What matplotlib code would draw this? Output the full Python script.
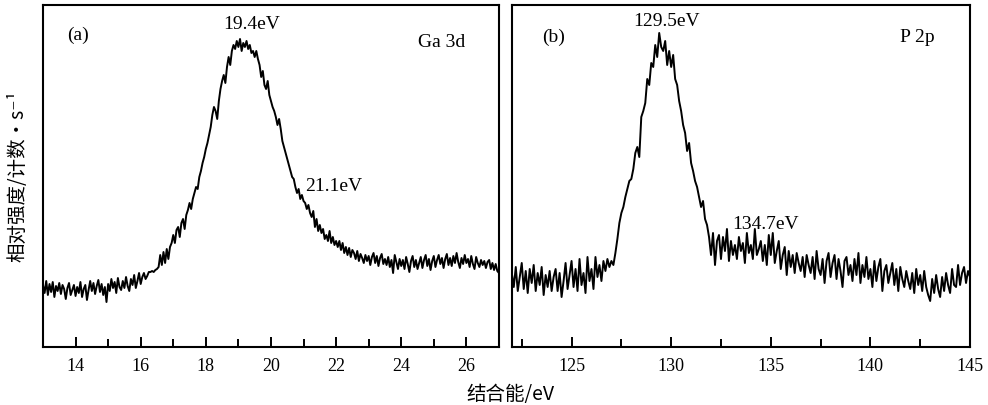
import numpy as np
import matplotlib
matplotlib.use("Agg")
import matplotlib.pyplot as plt
from matplotlib.ticker import MultipleLocator

plt.rcParams["font.family"] = ["Liberation Serif", "Noto Sans CJK SC", "DejaVu Sans"]

# Ga 3d spectrum, 13.00-27.00 eV in 0.05 eV steps (relative counts)
ga_start, ga_step = 13.0, 0.05
ga_counts = [
    62, 54, 66, 52, 63, 55, 65, 50, 61, 56,
    64, 53, 62, 58, 48, 59, 64, 52, 57, 62,
    51, 60, 54, 65, 50, 58, 62, 47, 57, 66,
    56, 64, 53, 61, 67, 55, 63, 52, 60, 45,
    63, 56, 68, 59, 65, 54, 69, 60, 57, 66,
    59, 70, 61, 56, 68, 62, 72, 59, 66, 74,
    63,
    70, 74, 68, 71, 75, 75, 76, 75, 77, 78,
    80, 92, 82, 95, 84, 98, 88, 100, 104, 112,
    104, 117, 120, 110, 124, 128, 118, 132, 137, 144,
    138, 148, 154, 160, 158, 170, 176, 184, 190, 198,
    204, 212, 220, 232, 240, 236, 228, 246, 258, 266,
    272, 264, 280, 290, 282, 296, 302, 298, 306, 300,
    308, 296, 304, 300, 306, 298, 302, 294, 296, 290,
    296, 288, 282, 270, 276, 262, 258, 266, 252, 246,
    240, 236, 230, 222, 228, 218, 206, 200, 194, 188,
    182, 176, 170, 168, 160, 154, 158, 148, 152, 146,
    144, 138, 142, 134, 130, 136, 120, 128, 116, 122,
    114, 118, 108, 112, 106, 116, 104, 110, 102, 106,
    100, 106, 97, 104, 94, 100, 92, 99, 90, 97,
    94, 88, 96, 86, 93, 89, 84, 92, 86, 91,
    82, 90, 94, 84, 91, 81, 89, 93, 83, 88,
    82, 90, 80, 87, 74, 92, 85, 78, 88, 81,
    87, 78, 90, 83, 75, 86, 91, 80, 87, 78,
    84, 90, 79, 87, 92, 81, 88, 77, 86, 91,
    80, 87, 92, 83, 89, 79, 88, 93, 82, 89,
    81, 91, 84, 94, 85, 79, 89, 83, 92, 84,
    88, 80, 91, 83, 78, 90, 84, 80, 87, 82,
    86, 79, 85, 87, 78, 84, 77, 83, 76, 74,
]

# P 2p spectrum, 122.0-145.0 eV in 0.1 eV steps (relative counts)
p_start, p_step = 122.0, 0.1
p_counts = [
    74, 60, 80, 56, 70, 84, 58, 76, 54, 78,
    64, 82, 56, 74, 62, 80, 52, 72, 60, 76,
    56, 70, 78, 56, 74, 50, 66, 84, 58, 72,
    86, 60, 78, 56, 88, 62, 74, 54, 90, 66,
    78, 58, 90, 70, 82, 66, 86, 76, 88, 80,
    86, 82, 94, 108, 124, 134, 140, 150, 158, 166,
    168, 178, 194, 200, 190, 230, 236, 244, 268, 262,
    284, 280, 302, 290, 314, 300, 296, 306, 282, 296,
    280, 292, 268, 262, 246, 236, 222, 214, 196, 204,
    184, 176, 166, 160, 150, 140, 146, 128, 122, 110,
    92, 114, 82, 106, 112, 88, 110, 96, 118, 86,
    106, 92, 102, 88, 110, 96, 104, 84, 114, 94,
    102, 88, 118, 92, 98, 106, 86, 102, 82, 112,
    92, 114, 84, 96, 106, 78, 92, 100, 72, 96,
    80, 92, 74, 94, 84, 76, 90, 70, 92, 82,
    74, 90, 68, 96, 78, 72, 88, 64, 86, 94,
    70, 84, 92, 68, 88, 76, 60, 86, 90, 72,
    82, 66, 88, 72, 94, 64, 82, 70, 90, 68,
    78, 60, 86, 66, 80, 88, 56, 76, 82, 64,
    74, 84, 62, 78, 56, 80, 68, 60, 76, 66,
    58, 74, 54, 78, 62, 72, 56, 76, 60, 52,
    46, 68, 54, 72, 58, 50, 70, 56, 74, 62,
    54, 78, 62, 60, 82, 62, 74, 80, 64, 76,
    70,
]

ga_labels = ["(a)", "Ga 3d", "19.4eV", "21.1eV"]
p_labels = ["(b)", "P 2p", "129.5eV", "134.7eV"]


def style_axis(ax, xlim, major, minor):
    """box frame, inward ticks on the bottom only"""
    ax.set_xlim(*xlim)
    ax.set_ylim(0, 342)
    ax.set_yticks([])
    ax.xaxis.set_major_locator(MultipleLocator(major))
    ax.xaxis.set_minor_locator(MultipleLocator(minor))
    ax.tick_params(axis="x", which="both", direction="in", width=1.4,
                   labelsize=13, pad=8)
    ax.tick_params(axis="x", which="major", length=7)
    ax.tick_params(axis="x", which="minor", length=6)
    for spine in ax.spines.values():
        spine.set_linewidth(1.5)


def main():
    fig = plt.figure(figsize=(9.88, 4.05), dpi=100)
    ax_a = fig.add_axes([0.0435, 0.1432, 0.4615, 0.8445])
    ax_b = fig.add_axes([0.518, 0.1432, 0.4638, 0.8445])

    ga_energy = ga_start + ga_step * np.arange(len(ga_counts))
    p_energy = p_start + p_step * np.arange(len(p_counts))

    ax_a.plot(ga_energy, ga_counts, color="black", lw=1.4)
    ax_b.plot(p_energy, p_counts, color="black", lw=1.4)

    style_axis(ax_a, (13, 27), 2, 1)
    style_axis(ax_b, (122, 145), 5, 2.5)

    ax_a.text(13.74, 312, ga_labels[0], fontsize=14, va="center")
    ax_a.text(24.53, 304, ga_labels[1], fontsize=14, va="center")
    ax_a.text(19.41, 322, ga_labels[2], fontsize=14, va="center", ha="center")
    ax_a.text(21.04, 160, ga_labels[3], fontsize=14, va="center")

    ax_b.text(123.5, 310, p_labels[0], fontsize=14, va="center")
    ax_b.text(141.48, 309, p_labels[1], fontsize=14, va="center")
    ax_b.text(129.75, 325, p_labels[2], fontsize=14, va="center", ha="center")
    ax_b.text(133.07, 122, p_labels[3], fontsize=14, va="center")

    fig.text(0.018, 0.565, "相对强度/计数·s⁻¹", rotation=90, fontsize=14,
             ha="center", va="center",
             family=["Noto Sans CJK SC", "DejaVu Sans"])
    fig.text(0.517, 0.025, "结合能/eV", fontsize=14, ha="center", va="center",
             family=["Noto Sans CJK SC", "DejaVu Sans"])

    fig.savefig("out.png", dpi=100)


if __name__ == "__main__":
    main()
